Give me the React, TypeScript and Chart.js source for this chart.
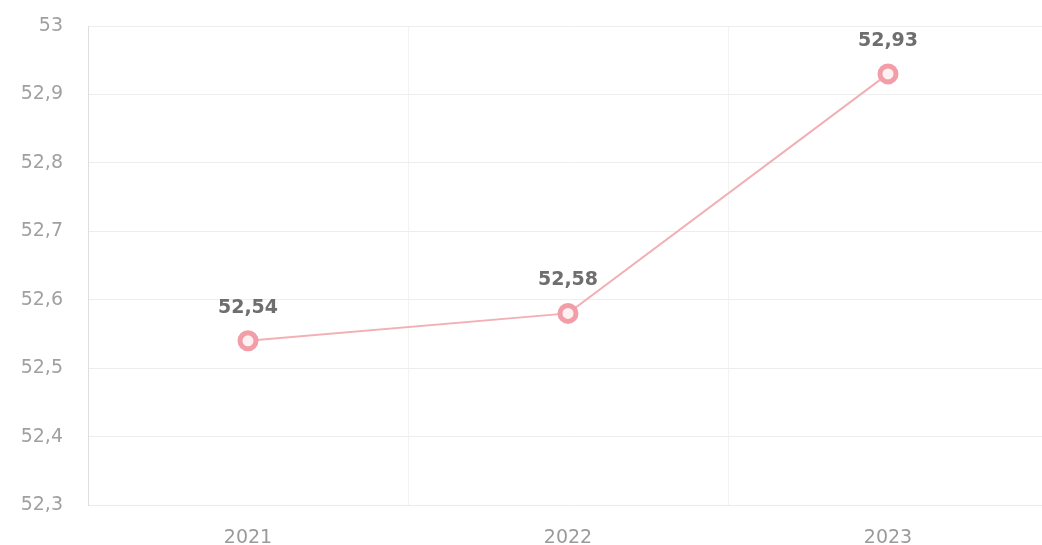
import React, { useEffect, useRef } from "react";
import { Chart, registerables } from "chart.js";

Chart.register(...registerables);

const categories = ["2021", "2022", "2023"];
const values = [52.54, 52.58, 52.93];
const yMin = 52.3;
const yMax = 53;
const yStep = 0.1;

const fmt = (v: number, d?: number) =>
  Number(v).toLocaleString("de-DE", d !== undefined ? { minimumFractionDigits: d, maximumFractionDigits: d } : { maximumFractionDigits: 2 });

const dataLabels = {
  id: "dataLabels",
  afterDatasetsDraw(chart: any) {
    const ctx = chart.ctx;
    const meta = chart.getDatasetMeta(0);
    ctx.save();
    ctx.font = "bold 19px 'DejaVu Sans'";
    ctx.fillStyle = "#6e6e6e";
    ctx.textAlign = "center";
    ctx.textBaseline = "middle";
    meta.data.forEach((pt: any, i: number) => {
      ctx.fillText(fmt(values[i], 2), pt.x, pt.y - 33);
    });
    ctx.restore();
  },
};

export default function App() {
  const ref = useRef<HTMLCanvasElement>(null);
  useEffect(() => {
    document.body.style.margin = "0";
    const chart = new Chart(ref.current!, {
      type: "line",
      data: {
        labels: categories,
        datasets: [
          {
            data: values,
            borderColor: "#f2b0b6",
            borderWidth: 2,
            pointRadius: 8,
            pointBorderWidth: 5,
            pointBorderColor: "#f29ea8",
            pointBackgroundColor: "#fdf1f2",
            tension: 0,
          },
        ],
      },
      options: {
        responsive: false,
        animation: false,
        layout: { autoPadding: false, padding: { top: 26, right: 0, left: 0, bottom: 0 } },
        plugins: { legend: { display: false }, tooltip: { enabled: false } },
        scales: {
          x: {
            offset: true,
            grid: { color: "#f3f3f3", drawTicks: false, offset: true },
            border: { display: true, color: "#ececec" },
            ticks: { color: "#9a9a9a", font: { family: "'DejaVu Sans'", size: 19 }, padding: 22 },
            afterFit: (s: any) => { s.height = 40; },
          },
          y: {
            min: yMin,
            max: yMax,
            ticks: {
              stepSize: yStep,
              color: "#a0a0a0",
              font: { family: "'DejaVu Sans'", size: 19 },
              padding: 25,
              callback: (v: any) => fmt(Number(v)),
            },
            grid: { color: "#ededed", drawTicks: false },
            border: { display: true, color: "#dedede" },
            afterFit: (s: any) => {
              s.width = 88;
              s.paddingTop = 12;
              s.paddingBottom = 12;
            },
          },
        },
      },
      plugins: [dataLabels],
    });
    return () => chart.destroy();
  }, []);
  return (
    <div style={{ width: 1042, height: 545, overflow: "hidden" }}>
      <canvas ref={ref} width={1048} height={545} style={{ display: "block" }} />
    </div>
  );
}
